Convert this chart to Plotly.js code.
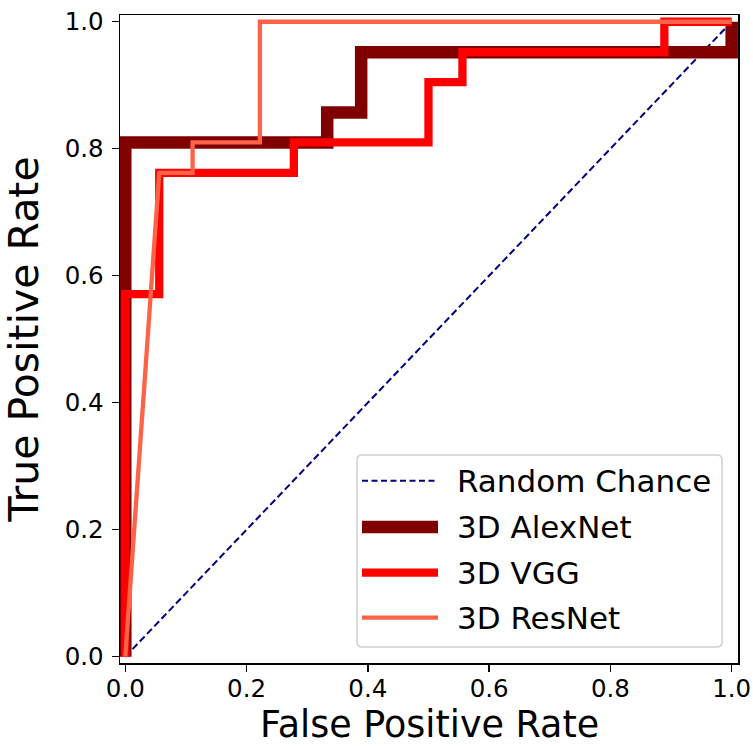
<!DOCTYPE html>
<html>
<head>
<meta charset="utf-8">
<script src="https://cdn.plot.ly/plotly-3.0.1.min.js"></script>
<style>html,body{margin:0;padding:0;background:#fff;}</style>
</head>
<body>
<div id="chart" style="width:753px;height:746px;"></div>
<script>
// Random chance diagonal
const chanceFpr = [0, 1];
const chanceTpr = [0, 1];

// 3D AlexNet ROC vertices
const alexFpr = [0, 0, 0.333, 0.333, 0.389, 0.389, 1.0, 1.0];
const alexTpr = [0, 0.810, 0.810, 0.857, 0.857, 0.952, 0.952, 1.0];

// 3D VGG ROC vertices
const vggFpr = [0, 0, 0.056, 0.056, 0.278, 0.278, 0.5, 0.5, 0.556, 0.556, 0.889, 0.889, 1.0];
const vggTpr = [0, 0.571, 0.571, 0.762, 0.762, 0.810, 0.810, 0.905, 0.905, 0.952, 0.952, 1.0, 1.0];

// 3D ResNet ROC vertices
const resFpr = [0, 0.056, 0.111, 0.111, 0.222, 0.222, 1.0];
const resTpr = [0, 0.762, 0.762, 0.810, 0.810, 1.0, 1.0];

const seriesNames = ["Random Chance", "3D AlexNet", "3D VGG", "3D ResNet"];
const tickVals = [0, 0.2, 0.4, 0.6, 0.8, 1.0];
const tickText = ["0.0", "0.2", "0.4", "0.6", "0.8", "1.0"];
const xTitle = "False Positive Rate";
const yTitle = "True Positive Rate";

const colors = ["#000080", "#800000", "#ff0000", "#ff6347"];
const widths = [2, 12.5, 8.3, 4.3];
const dashes = ["7px,3.5px", "solid", "solid", "solid"];
const xs = [chanceFpr, alexFpr, vggFpr, resFpr];
const ys = [chanceTpr, alexTpr, vggTpr, resTpr];

const FONT = "DejaVu Sans, Verdana, sans-serif";

const traces = seriesNames.map((n, i) => ({
  type: "scatter", mode: "lines", name: n,
  x: xs[i], y: ys[i],
  line: {color: colors[i], width: widths[i], dash: dashes[i]},
  showlegend: false, hoverinfo: "skip"
}));

// custom legend (paper coordinates)
const W = 618, H = 648;
const lx0 = (357 - 120) / W, lx1 = (722 - 120) / W;
const ly0 = (663 - 647) / H, ly1 = (663 - 455) / H;
const rx = 5 / W, ry = 5 / H;
const boxPath = `M${lx0 + rx},${ly0} L${lx1 - rx},${ly0} Q${lx1},${ly0} ${lx1},${ly0 + ry} L${lx1},${ly1 - ry} Q${lx1},${ly1} ${lx1 - rx},${ly1} L${lx0 + rx},${ly1} Q${lx0},${ly1} ${lx0},${ly1 - ry} L${lx0},${ly0 + ry} Q${lx0},${ly0} ${lx0 + rx},${ly0} Z`;

const shapes = [{
  type: "path", xref: "paper", yref: "paper", path: boxPath,
  fillcolor: "rgba(255,255,255,0.8)", line: {color: "#d0d0d0", width: 1.5}, layer: "above"
}];
const annotations = [];
const rowPx = [480.7, 527, 572.7, 617.7];
const sx0 = (362 - 120) / W, sx1 = (438 - 120) / W, tx = (455 - 120) / W;
seriesNames.forEach((n, i) => {
  const yy = (663 - rowPx[i]) / H;
  shapes.push({
    type: "line", xref: "paper", yref: "paper", x0: sx0, x1: sx1, y0: yy, y1: yy,
    line: {color: colors[i], width: widths[i], dash: i === 0 ? "6px,3.5px" : "solid"}, layer: "above"
  });
  annotations.push({
    xref: "paper", yref: "paper", x: tx, y: yy, xanchor: "left", yanchor: "middle",
    text: n, showarrow: false, font: {family: FONT, size: 31, color: "#000"}
  });
});
// x-axis title placed as an annotation below the tick labels
annotations.push({
  xref: "paper", yref: "paper", x: 0.5, y: (663 - 724.5) / H,
  xanchor: "center", yanchor: "middle", text: xTitle, showarrow: false,
  font: {family: FONT, size: 36.5, color: "#000"}
});

const axisCommon = {
  tickvals: tickVals, ticktext: tickText,
  ticks: "outside", ticklen: 7, tickwidth: 1.5, tickcolor: "#000",
  showline: true, linecolor: "#000", linewidth: 1.5, mirror: true,
  showgrid: false, zeroline: false,
  tickfont: {family: FONT, size: 24.5, color: "#000"}
};

const layout = {
  width: 753, height: 746,
  margin: {l: 120, r: 15, t: 15, b: 83, pad: 0},
  paper_bgcolor: "#fff", plot_bgcolor: "#fff",
  xaxis: Object.assign({}, axisCommon, {
    range: [-0.0087, 1.0104],
    ticklabelstandoff: -4
  }),
  yaxis: Object.assign({}, axisCommon, {
    range: [-0.0099, 1.0106],
    ticklabelstandoff: 3,
    title: {text: yTitle, font: {family: FONT, size: 41, color: "#000"}}
  }),
  shapes: shapes,
  annotations: annotations,
  showlegend: false
};

Plotly.newPlot("chart", traces, layout, {displayModeBar: false, staticPlot: true});
</script>
</body>
</html>
